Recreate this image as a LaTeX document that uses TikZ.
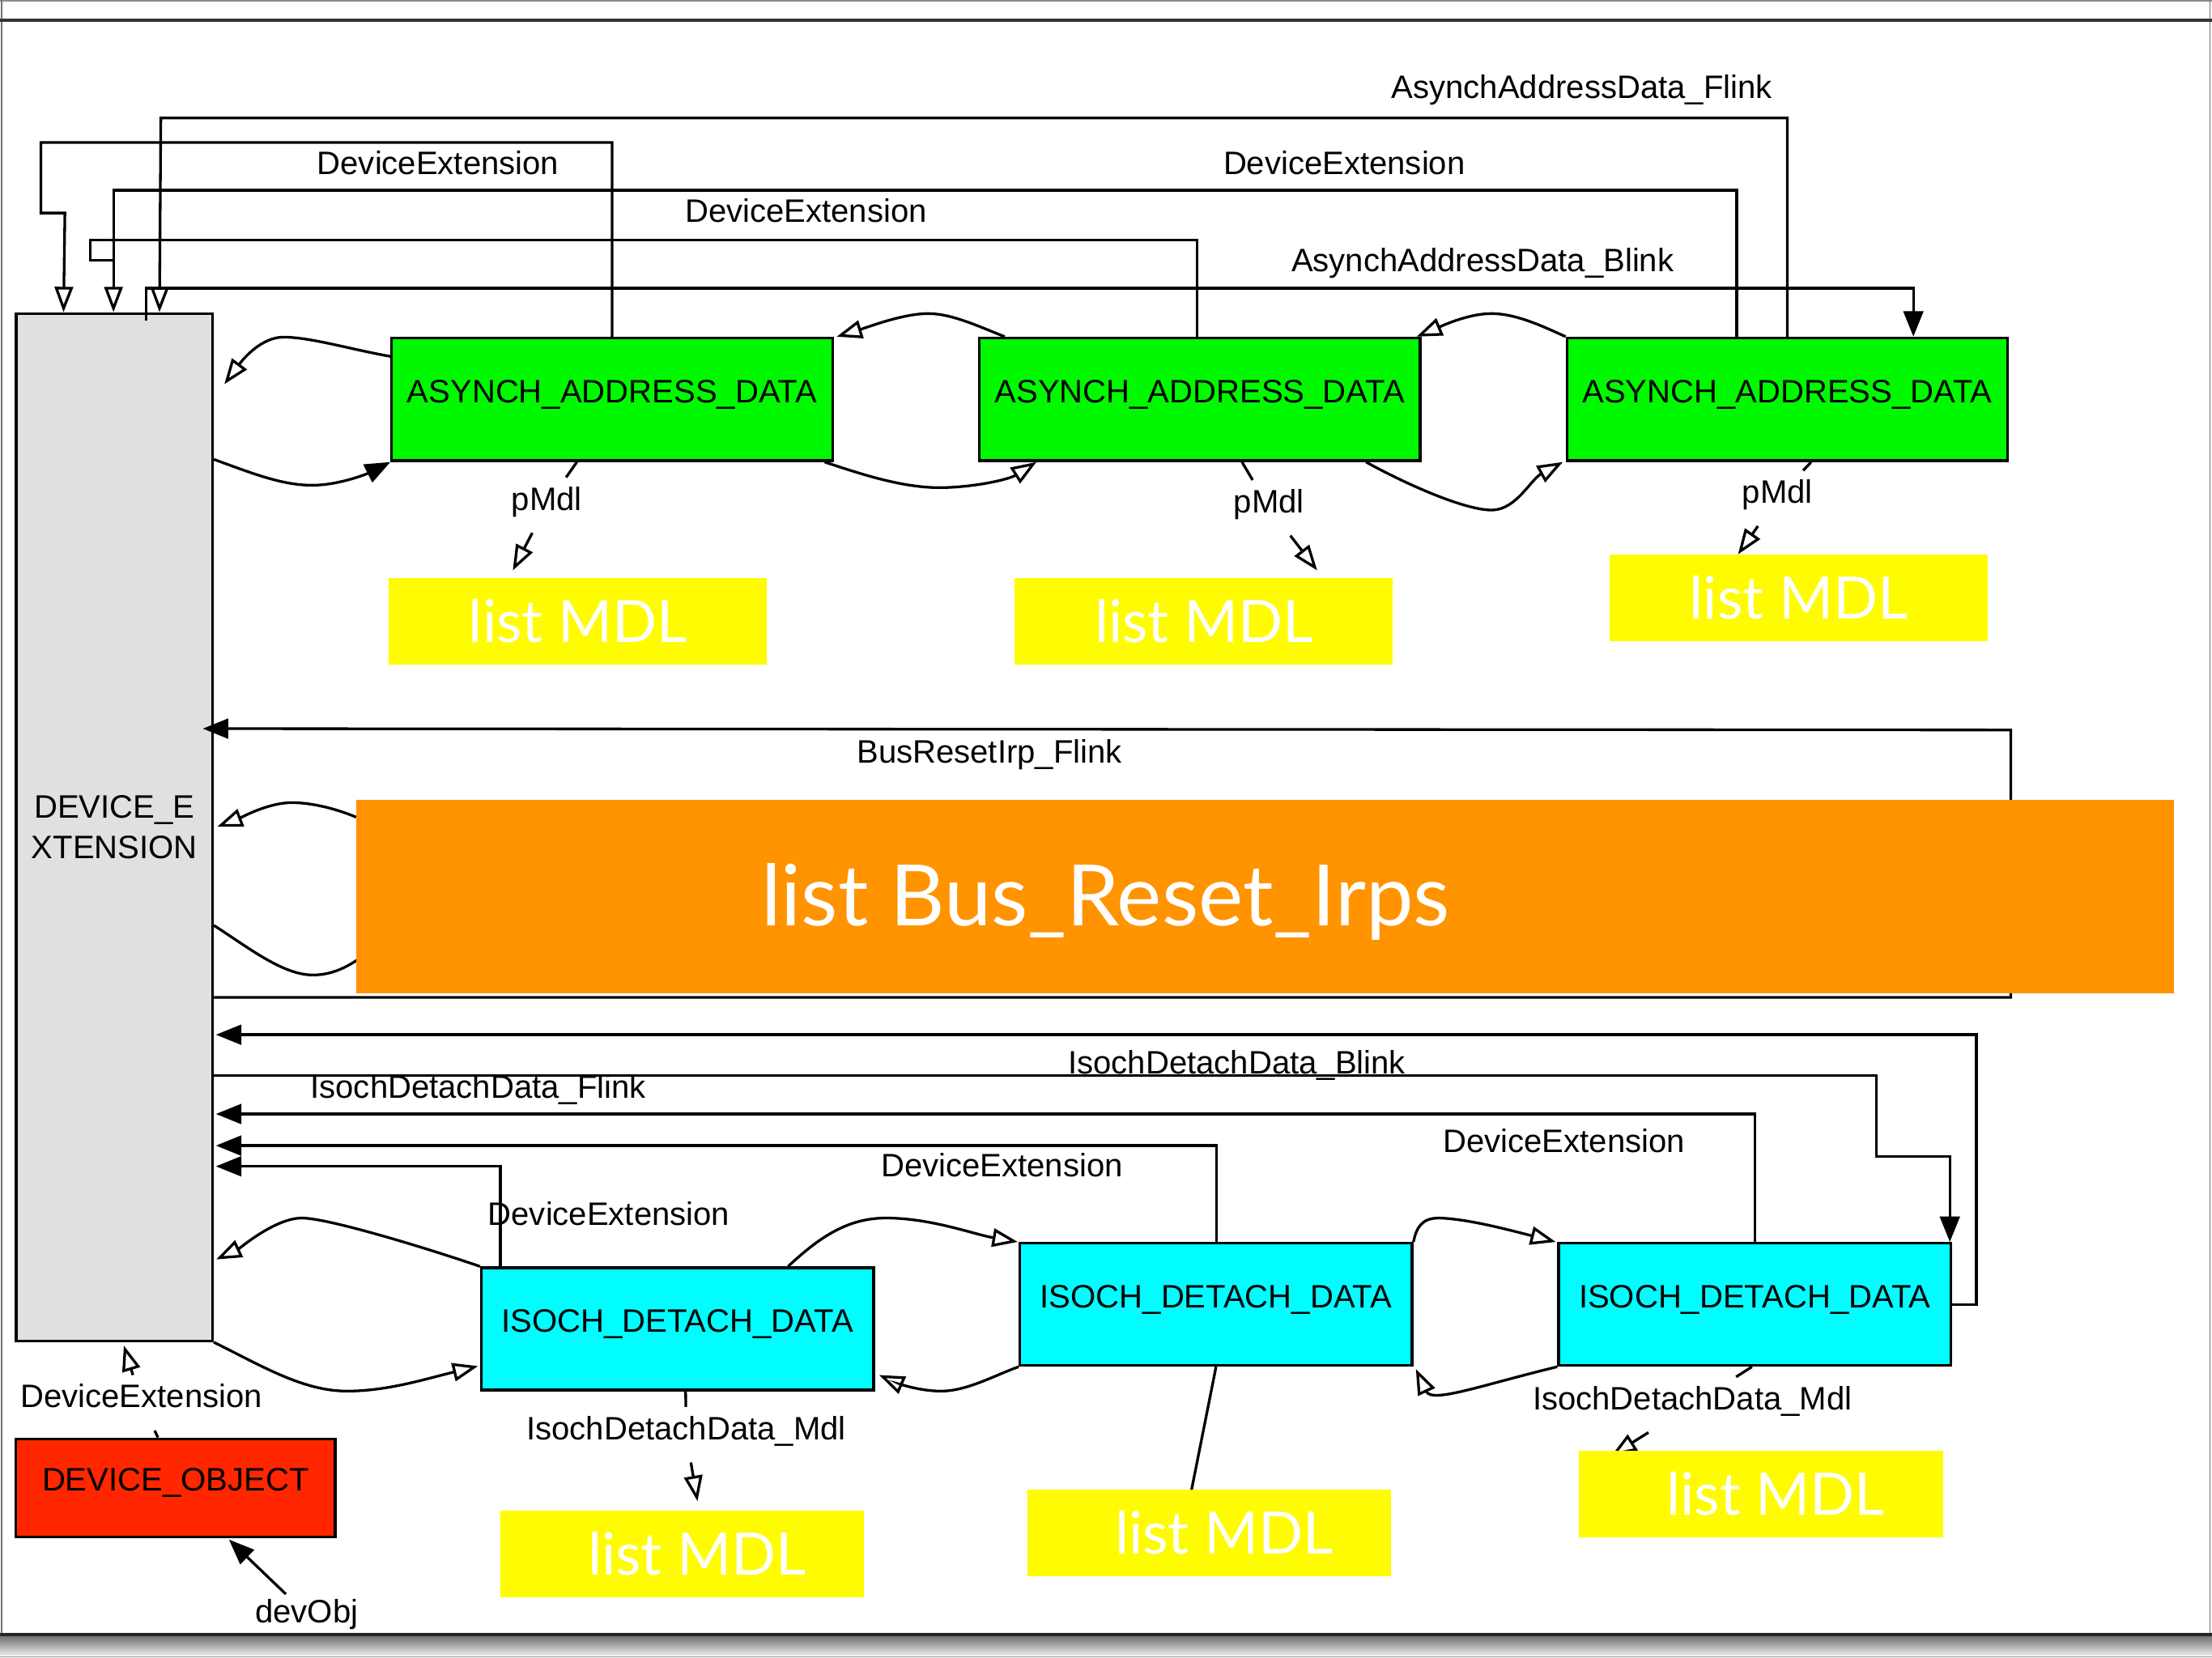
\documentclass[tikz,border=0pt]{standalone}
\usepackage{fontspec}
\setmainfont{Liberation Sans}
\newfontfamily\gillfont{Lato}
\usetikzlibrary{arrows.meta,calc}
\pgfdeclarelayer{back}
\pgfdeclarelayer{under}
\pgfsetlayers{back,under,main}

\definecolor{agreen}{RGB}{0,249,0}
\definecolor{icyan}{RGB}{0,253,255}
\definecolor{myellow}{RGB}{255,251,0}
\definecolor{morange}{RGB}{255,147,0}
\definecolor{dored}{RGB}{255,38,0}
\definecolor{degray}{RGB}{224,224,224}

\newcommand\lblfont{\fontsize{23}{28.6}\selectfont}
\newcommand\mdlfont{\gillfont\fontsize{41.5}{46}\selectfont}
\newcommand\irpfont{\gillfont\fontsize{60}{66}\selectfont}

\begin{document}
\begin{tikzpicture}[x=1pt, y=-1pt,
  conn/.style={line width=1.9pt},
  oarr/.style={conn, -{Triangle[open, length=18pt, width=13pt]}},
  farr/.style={conn, -{Triangle[length=18pt, width=14pt]}},
  rbox/.style={draw=black, line width=1.9pt, inner sep=0pt, font=\lblfont, text height=16.5pt, text depth=12pt},
  abox/.style={rbox, fill=agreen, minimum width=312.5pt, minimum height=87pt},
  ibox/.style={rbox, fill=icyan, minimum width=278pt, minimum height=86.6pt},
  dobox/.style={rbox, fill=dored, minimum width=226.3pt, minimum height=69.8pt},
  debox/.style={draw=black, line width=1.9pt, fill=degray, inner sep=0pt, font=\lblfont, align=center, minimum width=139.1pt, minimum height=728.3pt},
  mdlbox/.style={fill=myellow, inner sep=0pt, text=white, font=\mdlfont},
  tmdl/.style={mdlbox, minimum width=268pt, minimum height=61.2pt},
  bmdl/.style={mdlbox, minimum width=258pt, minimum height=61.4pt},
  irpbox/.style={fill=morange, inner sep=0pt, text=white, font=\irpfont, minimum width=1288.2pt, minimum height=137.5pt, text height=44pt, text depth=2pt},
  lbl/.style={font=\lblfont, inner sep=0pt, anchor=base},
  elbl/.style={font=\lblfont, inner sep=6pt, anchor=base, text height=17pt, text depth=10pt},
  dlbl/.style={font=\lblfont, inner sep=3pt, anchor=base, text height=17pt, text depth=5pt},
]
\useasboundingbox (0,0) rectangle (1568,1175);

% window frame
\begin{pgfonlayer}{back}
  \fill[white] (0,0) rectangle (1568,1175);
  \draw[line width=1pt, black!45] (0,0.5) -- (1568,0.5);
  \draw[line width=1pt, black!55] (1,0) -- (1,1159);
  \draw[line width=1pt, black!55] (1566.5,0) -- (1566.5,1159);
  \draw[line width=2pt, black!80] (0,14.4) -- (1568,14.4);
  \shade[top color=black!55, bottom color=black!8] (0,1160) rectangle (1568,1173.5);
  \draw[line width=2.4pt, black!85] (0,1159) -- (1568,1159);
  \draw[line width=0.8pt, black!40] (0,1174.5) -- (1568,1174.5);
\end{pgfonlayer}

% structures
\node[debox] (DE) at (81.05,586.45) {DEVICE\_E\\XTENSION};
\node[abox] (G1) at (433.9,283.1) {ASYNCH\_ADDRESS\_DATA};
\node[abox] (G2) at (850.4,283.1) {ASYNCH\_ADDRESS\_DATA};
\node[abox] (G3) at (1267,283.1) {ASYNCH\_ADDRESS\_DATA};
\node[tmdl] (Y1) at (409.6,440.4) {list MDL};
\node[tmdl] (Y2) at (853.3,440.4) {list MDL};
\node[tmdl] (Y3) at (1275,423.8) {list MDL};
\node[ibox] (C1) at (480.2,942.05) {ISOCH\_DETACH\_DATA};
\node[ibox] (C2) at (862,924.7) {ISOCH\_DETACH\_DATA};
\node[ibox] (C3) at (1243.8,924.7) {ISOCH\_DETACH\_DATA};
\node[bmdl] (Y4) at (483.55,1101.75) {\hspace*{21pt}list MDL};
\node[bmdl] (Y5) at (857.15,1086.65) {\hspace*{21pt}list MDL};
\node[bmdl] (Y6) at (1248.2,1059.2) {\hspace*{21pt}list MDL};
\node[dobox] (DO) at (124.45,1054.9) {DEVICE\_OBJECT};

% DeviceExtension back pointers and the AsynchAddressData list head
\draw[oarr] (G1.north) |- (29,101) |- (46,151) -- ($(DE.north west)+(34.5,0)$);
\draw[oarr] ($(G3.north)+(-36,0)$) |- ($(DE.north west)+(69.9,-86.5)$) -- ($(DE.north west)+(69.9,0)$);
\draw[conn] ($(G2.north)+(-2,0)$) |- (64,170) |- ($(DE.north west)+(69.9,-36.7)$);
\draw[oarr] (G3.north) |- (114,83.6) -- ($(DE.north west)+(102.5,0)$);
\draw[farr] ($(DE.north west)+(93,6)$) -- ++(0,-23) -| ($(G3.north west)+(246.5,0)$);

\node[lbl] (tDE1) at (310.5,123.4) {DeviceExtension};
\node[lbl] (tDE2) at (952.9,123.4) {DeviceExtension};
\node[lbl] (tDE3) at (571.3,157.8) {DeviceExtension};
\node[lbl] (tAFl) at (1121.3,70) {AsynchAddressData\_Flink};
\node[lbl] (tABl) at (1051,192.8) {AsynchAddressData\_Blink};

% asynch list links
\draw[oarr] ($(G1.north west)+(0,14)$) .. controls (250,248) and (220,239) .. (201,239)
  .. controls (185,239) and (172,255) .. ($(DE.north east)+(7.5,51)$);
\draw[farr] ($(DE.north east)+(0,104.3)$) .. controls (180,336) and (200,344) .. (221.4,344)
  .. controls (240,344) and (260,336) .. (G1.south west);
\draw[oarr] ($(G1.south east)+(-6.5,0)$) .. controls (610,336) and (640,346) .. (667,345.7)
  .. controls (690,345.5) and (715,340) .. ($(G2.south west)+(41.5,0)$);
\draw[oarr] ($(G2.north west)+(19,0)$) .. controls (695,232) and (675,222.3) .. (658,222.3)
  .. controls (640,222.3) and (615,232) .. ($(G1.north east)+(2,0)$);
\draw[oarr] ($(G2.south east)+(-39.3,0)$) .. controls (1000,345) and (1040,362) .. (1058,361.6)
  .. controls (1075,361) and (1085,340) .. ($(G3.south west)+(-2,0)$);
\draw[oarr] (G3.north west) .. controls (1095,232) and (1075,222.3) .. (1057.2,222.3)
  .. controls (1040,222.3) and (1020,232) .. ($(G2.north east)+(-3.4,0)$);

% pMdl pointers
\node[elbl] (pm1) at (387.5,361.6) {pMdl};
\draw[conn] ($(G1.south)+(-25,0)$) -- (pm1);
\draw[oarr] (pm1) -- ($(Y1.north)+(-46.1,-5.2)$);
\node[elbl] (pm2) at (899.5,363.5) {pMdl};
\draw[conn] ($(G2.south)+(30,0)$) -- (pm2);
\draw[oarr] (pm2) -- ($(Y2.north)+(80.4,-5.2)$);
\node[elbl] (pm3) at (1260,356.8) {pMdl};
\draw[conn] ($(G3.south)+(16.8,0)$) -- (pm3);
\draw[oarr] (pm3) -- ($(Y3.north)+(-43,0)$);

% bus reset irp list head (empty: points to itself)
\draw[farr] ($(DE.north east)+(0,485.7)$) -| (1425.4,517.5) -- ($(DE.north east)+(-7.8,295.2)$);
\node[lbl] (tBRF) at (701.4,541.2) {BusResetIrp\_Flink};

\node[irpbox] (OR) at (896.7,635.55) {list Bus\_Reset\_Irps\hspace*{226pt}};
\draw[oarr] ($(OR.north west)+(0,12.7)$) .. controls (240,574) and (222,569) .. (206.8,569)
  .. controls (190,569) and (170,580) .. ($(DE.east)+(2.4,-0.35)$);
\begin{pgfonlayer}{under}
  \draw[conn] ($(DE.east)+(0,69.55)$) .. controls (175,671) and (200,691) .. (221.4,691.2)
    .. controls (240,691.4) and (255,681) .. ($(OR.west)+(22,28)$);
\end{pgfonlayer}

% isoch detach list head and back pointers
\draw[farr] (C3.east) -- ++(17.2,0) |- ($(DE.north east)+(1.5,512.2)$);
\draw[farr] ($(DE.north east)+(0,541.1)$) -| (1330.2,819.8) -| ($(C3.north east)+(-1.6,0)$);
\draw[farr] (C3.north) |- ($(DE.north east)+(1.5,568.4)$);
\draw[farr] ($(C2.north)+(0.4,0)$) |- ($(DE.north east)+(1.5,590.8)$);
\draw[farr] ($(C1.north west)+(14.4,0)$) |- ($(DE.north east)+(1.5,605.5)$);

\node[lbl] (tIBl) at (876.8,761.5) {IsochDetachData\_Blink};
\node[lbl] (tIFl) at (339,778.7) {IsochDetachData\_Flink};
\node[lbl] (tDE5) at (1108.7,817) {DeviceExtension};
\node[lbl] (tDE6) at (710.2,834.1) {DeviceExtension};
\node[lbl] (tDE7) at (431.6,868.6) {DeviceExtension};

% isoch list links
\draw[oarr] (C1.north west) .. controls (300,884) and (232,863.5) .. (214,863.5)
  .. controls (195,863.5) and (170,885) .. ($(DE.north east)+(1.7,671.5)$);
\draw[oarr] (DE.south east) .. controls (185,968) and (215,986.5) .. (246.7,986.2)
  .. controls (275,986) and (300,978) .. ($(C1.south west)+(-1.4,-17.8)$);
\draw[oarr] ($(C1.north)+(78.4,0)$) .. controls (580,878) and (600,863.5) .. (628,863.5)
  .. controls (660,863.5) and (690,875) .. ($(C2.north west)+(-0.6,0)$);
\draw[oarr] (C2.south west) .. controls (705,975) and (685,986.5) .. (666.2,986.2)
  .. controls (650,986) and (635,980) .. ($(C1.south east)+(3,-11.5)$);
\draw[oarr] (C2.north east) .. controls (1004,870) and (1008,863.5) .. (1020,863.5)
  .. controls (1040,864) and (1070,872) .. ($(C3.north west)+(-1,0)$);
\draw[oarr] (C3.south west) .. controls (1050,982) and (1015,995) .. ($(C2.south east)+(1.7,1.6)$);

% IsochDetachData_Mdl pointers
\node[elbl] (md1) at (486.4,1020.6) {IsochDetachData\_Mdl};
\draw[conn] ($(C1.south)+(5.8,0)$) -- (md1);
\draw[oarr] (md1) -- ($(Y4.north)+(10.85,-6.65)$);
\node[elbl] (md3) at (1199.7,999.3) {IsochDetachData\_Mdl};
\draw[conn] ($(C3.south)+(-1.9,0)$) -- (md3);
\begin{pgfonlayer}{under}
  \draw[oarr] (md3) -- ($(Y6.north)+(-106,3.8)$);
  \draw[oarr] (C2.south) -- ($(Y5.north)+(-18,28)$);
\end{pgfonlayer}

% device object
\node[elbl] (de4) at (100.3,998) {DeviceExtension};
\draw[conn] ($(DO.north)+(-12.5,0)$) -- (de4);
\draw[oarr] (de4) -- ($(DE.south)+(6.75,2.4)$);
\node[dlbl] (dvo) at (217.4,1150.3) {devObj};
\draw[farr] (dvo) -- ($(DO.south)+(37.85,0.7)$);
\end{tikzpicture}
\end{document}
